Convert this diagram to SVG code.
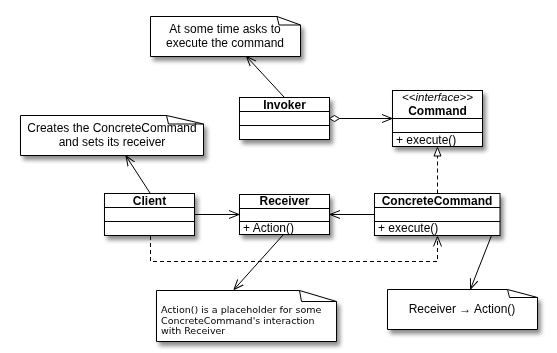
<svg xmlns="http://www.w3.org/2000/svg" width="557" height="353" viewBox="0 0 557 353">
<style>
.box{fill:#fff;stroke:#000;stroke-width:1}
.ln{stroke:#000;stroke-width:1;fill:none}
.dash{stroke-dasharray:4 3}
.t{font-family:"Liberation Sans",Arial,sans-serif;font-size:12px;fill:#000}
.b{font-weight:bold;text-anchor:middle}
.c{text-anchor:middle}
.i{font-style:italic;font-size:11.5px;text-anchor:middle}
.v{font-family:"DejaVu Sans",Verdana,sans-serif;font-size:9.5px;fill:#000}
.sh{filter:url(#shadow)}
</style>
<defs>
<filter id="shadow" x="-20%" y="-20%" width="140%" height="150%">
<feDropShadow dx="3" dy="4" stdDeviation="2" flood-color="#000" flood-opacity="0.45"/>
</filter>
<marker id="open" viewBox="0 0 10 10" refX="10" refY="5" markerWidth="10" markerHeight="10" markerUnits="userSpaceOnUse" orient="auto">
<path d="M0,1 L10,5 L0,9" fill="none" stroke="#000" stroke-width="1"/>
</marker>
</defs>
<rect width="557" height="353" fill="#fff"/>

<g id="note-invoker" class="sh">
<path class="box" d="M150.5,16.5 H277 L300.5,25 V56.5 H150.5 Z"/>
<path class="ln" d="M277,16.5 L279,25 L300.5,25"/>
<text class="t c" x="225" y="33">At some time asks to</text>
<text class="t c" x="225" y="47">execute the command</text>
</g>

<g id="note-client" class="sh">
<path class="box" d="M20.5,115.5 H166.5 L203.5,124 V155.5 H20.5 Z"/>
<path class="ln" d="M166.5,115.5 L168.5,124 L203.5,124"/>
<text class="t c" x="112" y="132">Creates the ConcreteCommand</text>
<text class="t c" x="112" y="146">and sets its receiver</text>
</g>

<g id="note-receiver" class="sh">
<path class="box" d="M156.5,290.5 H299.5 L336.5,301.5 V341.5 H156.5 Z"/>
<path class="ln" d="M299.5,290.5 L301.5,301.5 L336.5,301.5"/>
<text class="v" x="161" y="313">Action() is a placeholder for some</text>
<text class="v" x="161" y="323.5">ConcreteCommand's interaction</text>
<text class="v" x="161" y="334">with Receiver</text>
</g>

<g id="note-concrete" class="sh">
<path class="box" d="M387.5,289.5 H507.5 L537.5,297.5 V329.5 H387.5 Z"/>
<path class="ln" d="M507.5,289.5 L509.5,297.5 L537.5,297.5"/>
<text class="t c" x="462" y="313">Receiver → Action()</text>
</g>

<g id="invoker" class="sh">
<rect class="box" x="239.5" y="97.5" width="90" height="42"/>
<path class="ln" d="M239.5,111.5 H329.5 M239.5,125.5 H329.5"/>
<text class="t b" x="284.5" y="108.5">Invoker</text>
</g>

<g id="command" class="sh">
<rect class="box" x="392.5" y="90.5" width="90" height="56"/>
<path class="ln" d="M392.5,118.5 H482.5 M392.5,132.5 H482.5"/>
<text class="t i" x="437.5" y="100.5">&lt;&lt;interface&gt;&gt;</text>
<text class="t b" x="437.5" y="115">Command</text>
<text class="t" x="396" y="143.5">+ execute()</text>
</g>

<g id="client" class="sh">
<rect class="box" x="104.5" y="193.5" width="90" height="42"/>
<path class="ln" d="M104.5,207.5 H194.5 M104.5,221.5 H194.5"/>
<text class="t b" x="149.5" y="204.5">Client</text>
</g>

<g id="receiver" class="sh">
<rect class="box" x="239.5" y="194.5" width="90" height="40"/>
<path class="ln" d="M239.5,208.5 H329.5 M239.5,221.5 H329.5"/>
<text class="t b" x="284.5" y="205">Receiver</text>
<text class="t" x="243" y="231.5">+ Action()</text>
</g>

<g id="concrete-command" class="sh">
<rect class="box" x="374.5" y="193.5" width="125.5" height="42"/>
<path class="ln" d="M374.5,207.5 H500 M374.5,221.5 H500"/>
<text class="t b" x="437" y="204.5">ConcreteCommand</text>
<text class="t" x="378" y="232">+ execute()</text>
</g>

<g id="connectors">
<line class="ln" x1="284" y1="97" x2="246.5" y2="56.5" marker-end="url(#open)"/>
<polygon points="329.5,118.5 334.5,115.5 339.5,118.5 334.5,121.5" fill="#fff" stroke="#000"/>
<line class="ln" x1="339.5" y1="118.5" x2="392" y2="118.5" marker-end="url(#open)"/>
<line class="ln" x1="150" y1="193" x2="126" y2="156" marker-end="url(#open)"/>
<line class="ln" x1="194.5" y1="214.5" x2="239" y2="214.5" marker-end="url(#open)"/>
<line class="ln" x1="374.5" y1="214.5" x2="330" y2="214.5" marker-end="url(#open)"/>
<path class="ln dash" d="M150.5,236 V261.5 H437.5 V236.5" marker-end="url(#open)"/>
<line class="ln dash" x1="437.5" y1="193.5" x2="437.5" y2="156"/>
<polygon points="437.5,147.5 434,156 441,156" fill="#fff" stroke="#000"/>
<line class="ln" x1="283.5" y1="234.5" x2="234" y2="289.5" marker-end="url(#open)"/>
<line class="ln" x1="491.5" y1="235.5" x2="470.5" y2="289" marker-end="url(#open)"/>
</g>
</svg>
